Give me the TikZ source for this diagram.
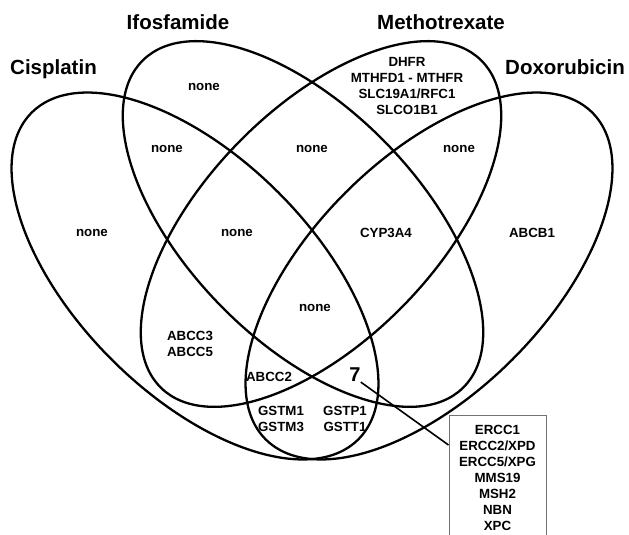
\documentclass[tikz,border=0pt]{standalone}
\usepackage{fontspec}
\setmainfont{Liberation Sans}
\begin{document}
\begin{tikzpicture}[x=1pt,y=1pt,
  venn/.style={draw=black, line width=2.3pt},
  lab/.style={font=\fontsize{13.3}{16}\selectfont\bfseries, align=center, inner sep=0pt},
  ttl/.style={font=\fontsize{20.5}{24}\selectfont\bfseries, inner sep=0pt, anchor=base},
  genebox/.style={draw=black!55, line width=1pt, font=\fontsize{13.3}{16}\selectfont\bfseries,
    align=center, anchor=north, minimum width=97pt, inner xsep=0pt, inner ysep=9.3pt},
  callout/.style={draw=black, line width=1.6pt}]
\useasboundingbox (0,0) rectangle (629,535);
\clip (0,0) rectangle (629,535);
% ellipses
\draw[venn, rotate around={-45:(195,259)}] (195,259) ellipse [x radius=231, y radius=118];
\draw[venn, rotate around={45:(429,259)}] (429,259) ellipse [x radius=231, y radius=118];
\draw[venn, rotate around={-45.7:(303,311)}] (303,311) ellipse [x radius=229, y radius=116];
\draw[venn, rotate around={45.7:(321,311)}] (321,311) ellipse [x radius=229, y radius=116];
% titles
\node[ttl] (tcis) at (53.5,460) {Cisplatin};
\node[ttl] (tifo) at (178,505) {Ifosfamide};
\node[ttl] (tmet) at (441,505) {Methotrexate};
\node[ttl] (tdox) at (565,460) {Doxorubicin};
% region labels
\node[lab] (r1) at (204,448) {none};
\node[lab] (r2) at (167,386) {none};
\node[lab] (r3) at (312,386) {none};
\node[lab] (r4) at (459,386) {none};
\node[lab] (r5) at (92,302) {none};
\node[lab] (r6) at (237,302) {none};
\node[lab] (r7) at (386,302) {CYP3A4};
\node[lab] (r8) at (532,302) {ABCB1};
\node[lab] (r9) at (315,227) {none};
\node[lab] (rmet) at (407,449) {DHFR\\MTHFD1 - MTHFR\\SLC19A1/RFC1\\SLCO1B1};
\node[lab] (rabcc) at (190,191.5) {ABCC3\\ABCC5};
\node[lab] (rabcc2) at (269,158) {ABCC2};
\node[lab] (rgstm) at (281,116.5) {GSTM1\\GSTM3};
\node[lab] (rgstp) at (345,116.5) {GSTP1\\GSTT1};
\node[font=\fontsize{20}{24}\selectfont\bfseries, inner sep=0pt] (seven) at (355,160) {7};
% gene box
\node[genebox] (box) at (497.5,120) {ERCC1\\ERCC2/XPD\\ERCC5/XPG\\MMS19\\MSH2\\NBN\\XPC\\ };
\draw[callout] (seven.south east) -- ([yshift=-30pt]box.north west);
\end{tikzpicture}
\end{document}
